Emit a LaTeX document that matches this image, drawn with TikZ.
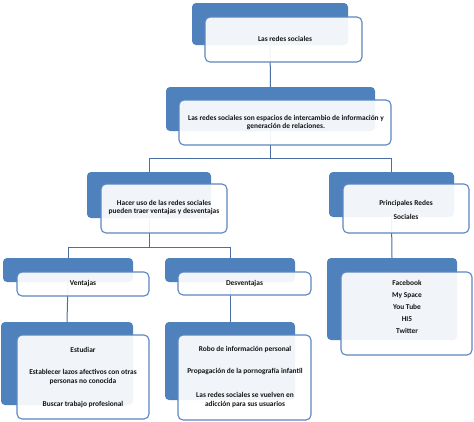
\documentclass[tikz,border=0pt]{standalone}
\usepackage{fontspec}
\setmainfont{Carlito}
\definecolor{myblue}{HTML}{4F81BD}
\definecolor{edgeblue}{HTML}{5B86C1}
\definecolor{linkblue}{HTML}{4A6FA5}
\definecolor{txt}{HTML}{141414}
\begin{document}
\begin{tikzpicture}[x=1pt,y=-1pt,
  bluebox/.style={fill=myblue, draw=none, rounded corners=4pt, inner sep=0pt, outer sep=0pt},
  whitebox/.style={fill=white, fill opacity=0.92, draw=edgeblue, line width=1.1pt, rounded corners=5pt, inner sep=0pt, outer sep=0pt},
  link/.style={draw=linkblue, line width=1pt},
  lbl/.style={font=\fontsize{7.4}{8.8}\selectfont\bfseries, text=txt, align=center, inner sep=0pt}]
\useasboundingbox (0,0) rectangle (474,421);
% blue boxes
\node[bluebox, minimum width=156pt, minimum height=42pt] (b1) at (270,24) {};
\node[bluebox, minimum width=209pt, minimum height=44pt] (b2) at (270.5,109) {};
\node[bluebox, minimum width=124pt, minimum height=46pt] (b3) at (149,195) {};
\node[bluebox, minimum width=125pt, minimum height=45pt] (b4) at (391.5,194.5) {};
\node[bluebox, minimum width=130pt, minimum height=24pt] (bV) at (68,270) {};
\node[bluebox, minimum width=130pt, minimum height=24pt] (bD) at (230,270) {};
\node[bluebox, minimum width=132pt, minimum height=83pt] (bVL) at (67,363.5) {};
\node[bluebox, minimum width=130pt, minimum height=78pt] (bDL) at (230,361) {};
\node[bluebox, minimum width=130pt, minimum height=82pt] (bPL) at (392,299) {};
% connectors
\coordinate (j2) at (270.5,158);
\coordinate (j3) at (149,247);
\draw[link] (b1.south) -- (b2.north);
\draw[link] (b2.south) -- (j2) -| (b3.north);
\draw[link] (j2) -| (b4.north);
\draw[link] (b3.south) -- (j3) -| (bV.north);
\draw[link] (j3) -| (bD.north);
\draw[link] (bV.south) -- (bVL.north);
\draw[link] (bD.south) -- (bDL.north);
\draw[link] (b4.south) -- (bPL.north);
% white boxes
\node[whitebox, minimum width=157pt, minimum height=45pt] (w1) at (283.5,39.5) {};
\node[whitebox, minimum width=212pt, minimum height=45pt] (w2) at (285,122.5) {};
\node[whitebox, minimum width=126pt, minimum height=49pt] (w3) at (164,208.5) {};
\node[whitebox, minimum width=126pt, minimum height=49pt] (w4) at (406,208.5) {};
\node[whitebox, minimum width=132pt, minimum height=24pt] (wV) at (83,284) {};
\node[whitebox, minimum width=133pt, minimum height=23pt] (wD) at (244.5,283.5) {};
\node[whitebox, minimum width=132pt, minimum height=84pt] (wVL) at (83,377) {};
\node[whitebox, minimum width=133pt, minimum height=85pt] (wDL) at (244.5,377.5) {};
\node[whitebox, minimum width=131pt, minimum height=83pt] (wPL) at (406.5,313.5) {};
% texts
\node[lbl] (t1) at (285,38.5) {Las redes sociales};
\node[lbl] (t2) at (286,122.5) {Las redes sociales son espacios de intercambio de información y\\generación de relaciones.};
\node[lbl] (t3) at (164,207.5) {Hacer uso de las redes sociales\\pueden traer  ventajas y desventajas};
\node[lbl] (t4) at (406,210) {Principales Redes\\[5pt]Sociales};
\node[lbl] (tV) at (83,284) {Ventajas};
\node[lbl] (tD) at (244.5,284) {Desventajas};
\node[lbl] (tV1) at (83,350) {Estudiar};
\node[lbl] (tV2) at (83,377) {Establecer lazos afectivos con otras\\personas no conocida};
\node[lbl] (tV3) at (83,405) {Buscar trabajo profesional};
\node[lbl] (tD1) at (245,349) {Robo de información personal};
\node[lbl] (tD2) at (245,372) {Propagación de la pornografía infantil};
\node[lbl] (tD3) at (245,400) {Las redes sociales se vuelven en\\adicción para sus usuarios};
\node[lbl, font=\fontsize{7.4}{12}\selectfont\bfseries] (tP) at (407,307) {Facebook\\My Space\\You Tube\\HI5\\Twitter};
\end{tikzpicture}
\end{document}
